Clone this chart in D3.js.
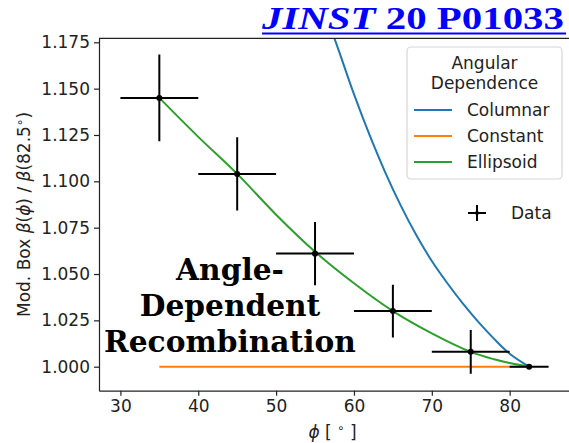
<!DOCTYPE html>
<html><head><meta charset="utf-8">
<script src="https://cdn.jsdelivr.net/npm/d3@7"></script>
<style>body{margin:0;background:#fff}svg{display:block}</style>
</head><body>
<svg id="c" width="569" height="443"></svg>
<script>
// ---- data ----
const dataPhi   = [35, 45, 55, 65, 75, 82.5];
const dataVal   = [1.145, 1.104, 1.061, 1.030, 1.008, 1.000];
const dataXErr  = [5, 5, 5, 5, 5, 2.5];
const dataYErr  = [0.0234, 0.0198, 0.0170, 0.0142, 0.0118, 0.0];

const columnarPhi = [56, 57.5, 60, 62, 64, 66, 68, 70, 72, 74, 76, 78, 80, 82.5];
const columnarVal = [1.193, 1.177, 1.147, 1.125, 1.105, 1.087, 1.071, 1.057, 1.045, 1.034, 1.024, 1.015, 1.007, 1.000];

const constantPhi = [35, 82.5];
const constantVal = [1.000, 1.000];

const ellipsoidPhi = [35, 40, 45, 50, 55, 60, 65, 70, 75, 78, 80, 82.5];
const ellipsoidVal = [1.145, 1.124, 1.104, 1.082, 1.062, 1.045, 1.030, 1.018, 1.008, 1.004, 1.002, 1.000];

const xTicks = [30, 40, 50, 60, 70, 80];
const yTicks = [1.000, 1.025, 1.050, 1.075, 1.100, 1.125, 1.150, 1.175];

const seriesNames  = ["Columnar", "Constant", "Ellipsoid"];
const seriesColors = ["#1f77b4", "#ff7f0e", "#2ca02c"];

// ---- drawing ----
const svg = d3.select("#c");
const L = 99, R = 570, T = 38.3, B = 390.7;
const x = d3.scaleLinear().domain([27.25, 87.75]).range([L, R]);
const y = d3.scaleLinear().domain([0.98705, 1.17716]).range([B, T]);
const font = "DejaVu Sans, sans-serif";

svg.append("defs").append("clipPath").attr("id", "clip")
  .append("rect").attr("x", L).attr("y", T).attr("width", R - L).attr("height", B - T);

const plot = svg.append("g").attr("clip-path", "url(#clip)");
const line = d3.line().x(d => x(d[0])).y(d => y(d[1])).curve(d3.curveCatmullRom.alpha(0.5));

const seriesData = [
  d3.zip(columnarPhi, columnarVal),
  d3.zip(constantPhi, constantVal),
  d3.zip(ellipsoidPhi, ellipsoidVal)
];
seriesData.forEach((s, i) => {
  plot.append("path").datum(s).attr("d", line)
    .attr("fill", "none").attr("stroke", seriesColors[i]).attr("stroke-width", 2);
});

// error bars
const pts = dataPhi.map((p, i) => ({p, v: dataVal[i], xe: dataXErr[i], ye: dataYErr[i]}));
const eb = plot.append("g");
pts.forEach(d => {
  eb.append("line").attr("x1", x(d.p - d.xe)).attr("x2", x(d.p + d.xe))
    .attr("y1", y(d.v)).attr("y2", y(d.v)).attr("stroke", "#000").attr("stroke-width", 2);
  if (d.ye > 0) eb.append("line").attr("x1", x(d.p)).attr("x2", x(d.p))
    .attr("y1", y(d.v - d.ye)).attr("y2", y(d.v + d.ye)).attr("stroke", "#000").attr("stroke-width", 2);
  eb.append("circle").attr("cx", x(d.p)).attr("cy", y(d.v)).attr("r", 3).attr("fill", "#000");
});

// axes
const xAxis = svg.append("g").attr("transform", `translate(0,${B})`)
  .call(d3.axisBottom(x).tickValues(xTicks).tickSize(5).tickPadding(4).tickSizeOuter(0));
const yAxis = svg.append("g").attr("transform", `translate(${L},0)`)
  .call(d3.axisLeft(y).tickValues(yTicks).tickFormat(d3.format(".3f")).tickSize(5).tickPadding(4).tickSizeOuter(0));
[xAxis, yAxis].forEach(a => {
  a.selectAll("text").attr("font-family", font).attr("font-size", 17).attr("fill", "#222");
  a.selectAll("line").attr("stroke", "#222").attr("stroke-width", 1.2);
  a.select(".domain").attr("stroke", "#222").attr("stroke-width", 1.2);
});
svg.append("line").attr("x1", L).attr("x2", R).attr("y1", T).attr("y2", T)
  .attr("stroke", "#222").attr("stroke-width", 1.2);
svg.append("line").attr("x1", R).attr("x2", R).attr("y1", T).attr("y2", B)
  .attr("stroke", "#222").attr("stroke-width", 1.2);

// axis labels
const xl = svg.append("text").attr("x", (L + R) / 2 - 2).attr("y", 438)
  .attr("text-anchor", "middle").attr("font-family", font).attr("font-size", 17).attr("fill", "#222");
xl.append("tspan").attr("font-style", "italic").text("ϕ");
xl.append("tspan").text(" [ ");
xl.append("tspan").attr("font-size", 12).attr("dy", -6).text("∘");
xl.append("tspan").attr("dy", 6).text(" ]");

const yl = svg.append("text").attr("transform", `translate(30,${(T + B) / 2}) rotate(-90)`)
  .attr("text-anchor", "middle").attr("font-family", font).attr("font-size", 17).attr("fill", "#222");
yl.append("tspan").text("Mod. Box ");
yl.append("tspan").attr("font-style", "italic").text("β");
yl.append("tspan").text("(");
yl.append("tspan").attr("font-style", "italic").text("ϕ");
yl.append("tspan").text(") / ");
yl.append("tspan").attr("font-style", "italic").text("β");
yl.append("tspan").text("(82.5");
yl.append("tspan").attr("font-size", 12).attr("dy", -6).text("∘");
yl.append("tspan").attr("dy", 6).text(")");

// legend
const lg = svg.append("g");
lg.append("rect").attr("x", 407).attr("y", 47).attr("width", 155).attr("height", 132)
  .attr("rx", 4).attr("fill", "#fff").attr("fill-opacity", 0.8).attr("stroke", "#d6d6d6").attr("stroke-width", 1.2);
["Angular", "Dependence"].forEach((t, i) => {
  lg.append("text").attr("x", 484.5).attr("y", 69 + i * 20).attr("text-anchor", "middle")
    .attr("font-family", font).attr("font-size", 17).attr("fill", "#222").text(t);
});
seriesNames.forEach((n, i) => {
  const yy = 110 + i * 26;
  lg.append("line").attr("x1", 414).attr("x2", 452).attr("y1", yy).attr("y2", yy)
    .attr("stroke", seriesColors[i]).attr("stroke-width", 2);
  lg.append("text").attr("x", 467).attr("y", yy + 6).attr("font-family", font)
    .attr("font-size", 17).attr("fill", "#222").text(n);
});
// data legend
const dl = svg.append("g");
dl.append("line").attr("x1", 468).attr("x2", 486).attr("y1", 213).attr("y2", 213).attr("stroke", "#000").attr("stroke-width", 2);
dl.append("line").attr("x1", 477).attr("x2", 477).attr("y1", 205).attr("y2", 221).attr("stroke", "#000").attr("stroke-width", 2);
dl.append("circle").attr("cx", 477).attr("cy", 213).attr("r", 2).attr("fill", "#000");
dl.append("text").attr("x", 511).attr("y", 219).attr("font-family", font).attr("font-size", 17).attr("fill", "#222").text("Data");

// annotation
const annLines = ["Angle-", "Dependent", "Recombination"];
const serif = "DejaVu Serif, serif";
const ann = svg.append("g");
annLines.forEach((t, i) => {
  ann.append("text").attr("x", 230).attr("y", 280 + i * 36).attr("text-anchor", "middle")
    .attr("font-family", serif).attr("font-weight", "bold").attr("font-size", 30)
    .attr("fill", "#000").text(t);
});
const rt = ann.selectAll("text").nodes()[2];
const w = rt.getComputedTextLength();
const fs = 30 * 252 / w;
ann.selectAll("text").attr("font-size", fs);

// title
const title = svg.append("text").attr("x", 564).attr("y", 29).attr("text-anchor", "end")
  .attr("font-family", "Liberation Serif, serif").attr("font-weight", "bold").attr("font-size", 32).attr("fill", "#0000ff")
  .attr("textLength", 302).attr("lengthAdjust", "spacingAndGlyphs");
title.append("tspan").attr("font-style", "italic").text("JINST");
title.append("tspan").text(" 20 P01033");
svg.append("line").attr("x1", 262).attr("x2", 566).attr("y1", 33.5).attr("y2", 33.5)
  .attr("stroke", "#0000ff").attr("stroke-width", 2);
</script>
</body></html>
